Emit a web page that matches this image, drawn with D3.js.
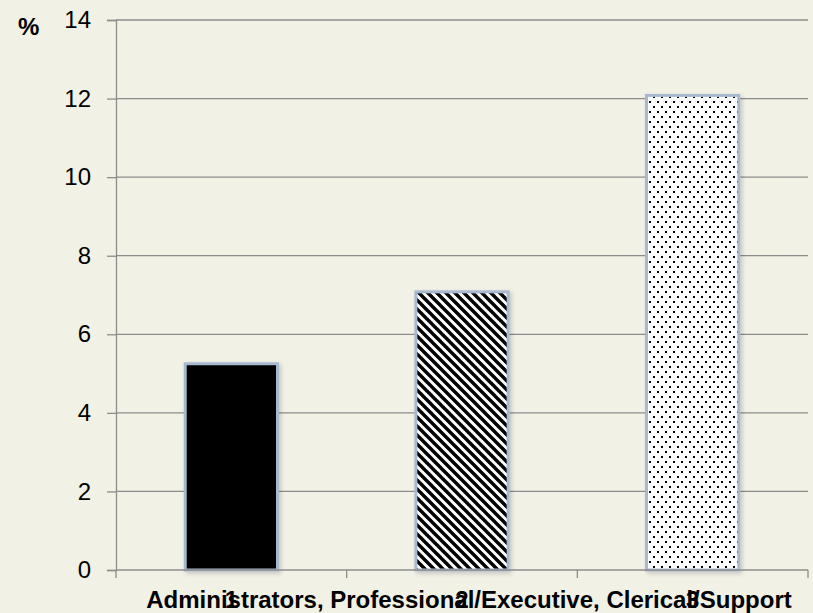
<!DOCTYPE html>
<html>
<head>
<meta charset="utf-8">
<script src="https://cdn.jsdelivr.net/npm/d3@7"></script>
<style>
  html, body { margin: 0; padding: 0; background: #f2f1e6; }
  svg { display: block; }
</style>
</head>
<body>
<svg id="chart" width="813" height="613"></svg>
<script>
// Chart data
const categories = ["1", "2", "3"];
const values = [5.25, 7.08, 12.08];
const patterns = ["solid", "stripes", "dots"];
const yTicks = [0, 2, 4, 6, 8, 10, 12, 14];
const axisTitle = "Administrators, Professional/Executive, Clerical/Support";
const unitLabel = "%";

const W = 813, H = 613;
const margin = { left: 116, right: 5, top: 20, bottom: 43 };
const FONT = "Liberation Sans, Arial, sans-serif";
const svg = d3.select("#chart");

svg.append("rect").attr("width", W).attr("height", H).attr("fill", "#f2f1e6");

// Fill patterns for the bars
const defs = svg.append("defs");
const stripes = defs.append("pattern")
  .attr("id", "stripes").attr("patternUnits", "userSpaceOnUse")
  .attr("width", 9).attr("height", 9);
stripes.append("rect").attr("width", 9).attr("height", 9).attr("fill", "#fff");
stripes.append("path")
  .attr("d", "M-2,-2 L11,11 M-2,7 L2,11 M7,-2 L11,2")
  .attr("stroke", "#000").attr("stroke-width", 3.4);

const dots = defs.append("pattern")
  .attr("id", "dots").attr("patternUnits", "userSpaceOnUse")
  .attr("width", 8).attr("height", 10);
dots.append("rect").attr("width", 8).attr("height", 10).attr("fill", "#fff");
dots.append("rect").attr("x", 1).attr("y", 1).attr("width", 2).attr("height", 2).attr("fill", "#000");
dots.append("rect").attr("x", 5).attr("y", 6).attr("width", 2).attr("height", 2).attr("fill", "#000");

const shadow = defs.append("filter").attr("id", "shadow")
  .attr("x", "-10%").attr("y", "-10%").attr("width", "130%").attr("height", "130%");
shadow.append("feDropShadow").attr("dx", 2).attr("dy", 2).attr("stdDeviation", 2)
  .attr("flood-color", "#000").attr("flood-opacity", 0.18);

const x = d3.scaleBand()
  .domain(categories)
  .range([margin.left, W - margin.right])
  .paddingInner(0).paddingOuter(0);

const y = d3.scaleLinear()
  .domain([0, 14])
  .range([H - margin.bottom, margin.top]);

// Horizontal gridlines
svg.append("g")
  .selectAll("line")
  .data(yTicks.filter(d => d > 0))
  .join("line")
  .attr("x1", margin.left).attr("x2", W - margin.right)
  .attr("y1", d => y(d)).attr("y2", d => y(d))
  .attr("stroke", "#8c8c8c").attr("stroke-width", 1.3);

// Y axis
const yAxis = svg.append("g")
  .attr("transform", `translate(${margin.left},0)`)
  .call(d3.axisLeft(y).tickValues(yTicks).tickSize(9).tickPadding(16));
yAxis.select(".domain").attr("stroke", "#8c8c8c").attr("stroke-width", 1.3);
yAxis.selectAll(".tick line").attr("stroke", "#8c8c8c").attr("stroke-width", 1.3);
yAxis.selectAll(".tick text")
  .attr("font-family", FONT)
  .attr("font-size", 24).attr("fill", "#000");

// Bars
const barW = x.bandwidth() * 0.4;
svg.append("g")
  .selectAll("rect")
  .data(categories)
  .join("rect")
  .attr("x", d => x(d) + (x.bandwidth() - barW) / 2)
  .attr("y", (d, i) => y(values[i]))
  .attr("width", barW)
  .attr("height", (d, i) => y(0) - y(values[i]))
  .attr("fill", (d, i) => patterns[i] === "solid" ? "#000" : `url(#${patterns[i]})`)
  .attr("stroke", "#a7b9cf")
  .attr("stroke-width", 3)
  .attr("filter", "url(#shadow)");

// X axis category labels
const xAxis = svg.append("g")
  .attr("transform", `translate(0,${y(0)})`)
  .call(d3.axisBottom(x).tickSize(0).tickPadding(0));
xAxis.select(".domain").remove();
xAxis.selectAll(".tick text")
  .attr("font-family", FONT)
  .attr("font-size", 24).attr("font-weight", "bold").attr("fill", "#000")
  .attr("dy", null)
  .attr("y", 38);

const xLine = svg.append("g");
xLine.append("line")
  .attr("x1", margin.left).attr("x2", W - margin.right)
  .attr("y1", y(0)).attr("y2", y(0))
  .attr("stroke", "#8c8c8c").attr("stroke-width", 1.3);
xLine.selectAll("line.tk")
  .data(categories.map(c => x(c)).concat([x(categories[categories.length - 1]) + x.bandwidth()]))
  .join("line").attr("class", "tk")
  .attr("x1", d => d).attr("x2", d => d)
  .attr("y1", y(0)).attr("y2", y(0) + 8)
  .attr("stroke", "#8c8c8c").attr("stroke-width", 1.3);

// Axis title under the categories
svg.append("text")
  .attr("x", 469)
  .attr("y", 608)
  .attr("text-anchor", "middle")
  .attr("font-family", FONT)
  .attr("font-size", 24).attr("font-weight", "bold").attr("fill", "#000")
  .text(axisTitle);

// Unit label
svg.append("text")
  .attr("x", 18).attr("y", 35)
  .attr("font-family", FONT)
  .attr("font-size", 24).attr("font-weight", "bold").attr("fill", "#000")
  .text(unitLabel);
</script>
</body>
</html>
